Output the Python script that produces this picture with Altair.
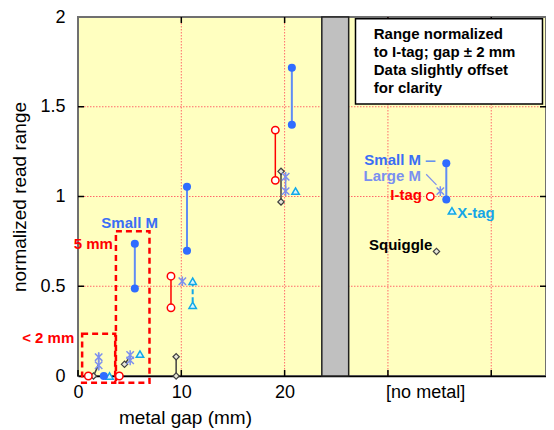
import altair as alt
import pandas as pd

# ---------------- data ----------------
itag_x = [1.0, 4.0, 9.0, 9.0, 19.1, 19.1, 34.1]
itag_y = [0.0, 0.0, 0.556, 0.38, 1.37, 1.09, 1.0]
smallm_x = [2.5, 5.5, 5.5, 10.55, 10.55, 20.7, 20.7, 35.65, 35.65]
smallm_y = [0.0, 0.737, 0.487, 1.054, 0.698, 1.717, 1.40, 1.185, 0.983]
largem_x = [2.0, 2.0, 5.05, 5.05, 10.1, 20.1, 20.1, 35.07]
largem_y = [0.105, 0.06, 0.117, 0.087, 0.528, 1.11, 1.03, 1.03]
xtag_x = [3.05, 6.0, 11.1, 11.1, 21.06, 36.2]
xtag_y = [0.0, 0.122, 0.528, 0.394, 1.03, 0.92]
squig_x = [1.5, 4.5, 9.5, 9.5, 19.65, 19.65, 34.7]
squig_y = [0.0, 0.065, 0.107, 0.0, 1.14, 0.97, 0.694]

# range segments: series, x, x2, y, y2
seg_series = ["itag", "itag", "smallm", "smallm", "smallm", "smallm",
              "largem", "largem", "largem", "xtag", "squig", "squig", "squig", "squig"]
seg_x = [9.0, 19.1, 5.5, 10.55, 20.7, 35.65, 2.0, 5.05, 20.1, 11.1, 9.5, 19.65, 1.5, 4.5]
seg_x2 = [9.0, 19.1, 5.5, 10.55, 20.7, 35.65, 2.0, 5.05, 20.1, 11.1, 9.5, 19.65, 2.0, 4.86]
seg_y = [0.556, 1.37, 0.737, 1.054, 1.717, 1.185, 0.13, 0.117, 1.11, 0.528, 0.107, 1.14, 0.0, 0.065]
seg_y2 = [0.38, 1.09, 0.487, 0.698, 1.40, 0.983, 0.03, 0.087, 1.03, 0.394, 0.0, 0.97, 0.065, 0.093]

x_ticks = [0, 10, 20]
x_nometal = 33.6
x_grid = [10, 20, 30, 40]
y_ticks = [0, 0.5, 1, 1.5, 2]
y_grid = [0.5, 1, 1.5]
x_max = 45.3
gap_band = [23.6, 26.2]

legend_lines = ["Range normalized", "to I-tag; gap \u00b1 2 mm", "Data slightly offset", "for clarity"]

ann_text = ["Small M", "Large M", "I-tag", "Squiggle", "5 mm", "< 2 mm", "X-tag", "Small M"]
ann_x = [33.2, 33.2, 33.3, 34.3, 3.38, -0.36, 36.7, 5.0]
ann_y = [1.202, 1.112, 1.01, 0.728, 0.733, 0.213, 0.91, 0.852]
ann_align = ["right", "right", "right", "right", "right", "right", "left", "center"]
ann_color = ["#3a6ef5", "#7a8ff0", "#ff0000", "#000000", "#ff0000", "#ff0000", "#16a6e6", "#3a6ef5"]

# ---------------- styles ----------------
W, H = 468, 359
FONT = "Liberation Sans"
BLUE = "#2f6cff"
BLUE_L = "#5f8cf5"
LBLUE = "#7d90ee"
RED = "#ff0000"
CYAN = "#10a8e8"
GREY = "#404040"
GRIDC = "#ff6a6a"

xs = alt.Scale(domain=[0, x_max], nice=False, zero=False)
ys = alt.Scale(domain=[0, 2], nice=False, zero=False)

xax = alt.Axis(values=x_ticks + [x_nometal],
               labelExpr="datum.value > 30 ? '[no metal]' : format(datum.value, 'd')",
               grid=False, ticks=False, domain=True, domainColor="black", domainWidth=1.5,
               labelFont=FONT, labelFontSize=18, labelColor="black", labelPadding=7,
               labelOverlap=False, labelFlush=False, title=None)
yax = alt.Axis(values=y_ticks, labelExpr="'' + datum.value",
               grid=False, ticks=False, domain=False,
               labelFont=FONT, labelFontSize=18, labelColor="black", labelPadding=13,
               title="normalized read range", titleFont=FONT, titleFontSize=19,
               titleFontWeight="normal", titleColor="black", titlePadding=10)


def X(f="x"):
    return alt.X(f"{f}:Q", scale=xs, axis=xax)


def Y(f="y"):
    return alt.Y(f"{f}:Q", scale=ys, axis=yax)


# grid lines
vgrid = alt.Chart(pd.DataFrame({"x": x_grid})).mark_rule(
    color=GRIDC, strokeDash=[1.5, 1.5], strokeWidth=1).encode(
    x=X(), y=alt.value(0), y2=alt.value(H))
hgrid = alt.Chart(pd.DataFrame({"y": y_grid})).mark_rule(
    color=GRIDC, strokeDash=[1.5, 1.5], strokeWidth=1).encode(
    y=Y(), x=alt.value(0), x2=alt.value(W))

# inward ticks
tick_top = alt.Chart(pd.DataFrame({"x": x_grid})).mark_rule(color="black", strokeWidth=1.5).encode(
    x=X(), y=alt.value(0), y2=alt.value(6))
tick_bot = alt.Chart(pd.DataFrame({"x": [0] + x_grid})).mark_rule(color="black", strokeWidth=1.5).encode(
    x=X(), y=alt.value(H), y2=alt.value(H - 6))
tick_right = alt.Chart(pd.DataFrame({"y": y_grid})).mark_rule(color="black", strokeWidth=1.5).encode(
    y=Y(), x=alt.value(W), x2=alt.value(W - 6))
tick_left = alt.Chart(pd.DataFrame({"y": y_grid})).mark_rule(color="black", strokeWidth=1.5).encode(
    y=Y(), x=alt.value(0), x2=alt.value(6))

# grey band
band = alt.Chart(pd.DataFrame({"x": [gap_band[0]], "x2": [gap_band[1]], "y": [0], "y2": [2]})).mark_rect(
    fill="#c0c0c0", stroke="#202020", strokeWidth=1.5).encode(
    x=X(), x2="x2:Q", y=Y(), y2="y2:Q")

# dashed boxes
boxes = alt.Chart(pd.DataFrame({"x": [0.4, 3.67], "x2": [3.6, 6.92],
                                "y": [-0.037, -0.037], "y2": [0.235, 0.806]})).mark_rect(
    fill=None, stroke=RED, strokeWidth=2.5, strokeDash=[6, 4]).encode(
    x=X(), x2="x2:Q", y=Y(), y2="y2:Q")

# range segments
segdf = pd.DataFrame({"s": seg_series, "x": seg_x, "x2": seg_x2, "y": seg_y, "y2": seg_y2})
seg_style = {"itag": (RED, None, 1.5), "smallm": (BLUE_L, None, 2), "largem": (LBLUE, None, 1.5),
             "xtag": (CYAN, [5, 3], 2), "squig": (GREY, None, 1.5)}
seg_layers = []
for s, (c, d, w) in seg_style.items():
    kw = dict(color=c, strokeWidth=w)
    if d:
        kw["strokeDash"] = d
    seg_layers.append(alt.Chart(segdf[segdf.s == s]).mark_rule(**kw).encode(
        x=X(), x2="x2:Q", y=Y(), y2="y2:Q"))

# points
squig = alt.Chart(pd.DataFrame({"x": squig_x, "y": squig_y})).mark_point(
    shape="diamond", size=40, filled=True, fill="#e8e8d8", stroke=GREY, strokeWidth=1.2, opacity=1).encode(
    x=X(), y=Y())
itag = alt.Chart(pd.DataFrame({"x": itag_x, "y": itag_y})).mark_point(
    shape="circle", size=55, filled=True, fill="white", stroke=RED, strokeWidth=1.5, opacity=1).encode(
    x=X(), y=Y())
largem = alt.Chart(pd.DataFrame({"x": largem_x, "y": largem_y})).mark_point(
    shape="M-1,-1L1,1M-1,1L1,-1M0,-1.3L0,1.3", size=55, filled=False, stroke=LBLUE,
    strokeWidth=1.5, opacity=1).encode(x=X(), y=Y())
xtag = alt.Chart(pd.DataFrame({"x": xtag_x, "y": xtag_y})).mark_point(
    shape="triangle-up", size=55, filled=True, fill="#d8f4ff", stroke=CYAN, strokeWidth=1.5, opacity=1).encode(
    x=X(), y=Y())
smallm = alt.Chart(pd.DataFrame({"x": smallm_x, "y": smallm_y})).mark_point(
    shape="circle", size=65, filled=True, color=BLUE, opacity=1).encode(
    x=X(), y=Y())

# annotation leader lines
leaders = alt.Chart(pd.DataFrame({"x": [33.66, 33.7], "x2": [34.6, 34.7],
                                  "y": [1.197, 1.124], "y2": [1.197, 1.065],
                                  "c": [BLUE, LBLUE]})).mark_rule(strokeWidth=1.2).encode(
    x=X(), x2="x2:Q", y=Y(), y2="y2:Q", color=alt.Color("c:N", scale=None))

anndf = pd.DataFrame({"t": ann_text, "x": ann_x, "y": ann_y, "a": ann_align, "c": ann_color})
ann_layers = []
for a in ["right", "left", "center"]:
    ann_layers.append(alt.Chart(anndf[anndf.a == a]).mark_text(
        align=a, baseline="middle", font=FONT, fontSize=15, fontWeight="bold").encode(
        x=X(), y=Y(), text="t:N", color=alt.Color("c:N", scale=None)))

# legend box
lbox = alt.Chart(pd.DataFrame({"x": [26.86], "x2": [44.96], "y": [1.515], "y2": [1.99]})).mark_rect(
    fill="white", stroke="black", strokeWidth=1.5).encode(
    x=X(), x2="x2:Q", y=Y(), y2="y2:Q")
ltext = alt.Chart(pd.DataFrame({"t": legend_lines, "x": [28.63] * 4,
                                "y": [1.906, 1.806, 1.706, 1.606]})).mark_text(
    align="left", baseline="middle", font=FONT, fontSize=15, fontWeight="bold", color="black").encode(
    x=X(), y=Y(), text="t:N")

# x title
xtitle = alt.Chart(pd.DataFrame({"t": ["metal gap (mm)"], "x": [10.4]})).mark_text(
    align="center", baseline="middle", font=FONT, fontSize=19, color="black").encode(
    x=X(), y=alt.value(401), text="t:N")

chart = alt.layer(
    vgrid, hgrid, band, tick_top, tick_bot, tick_right, tick_left, boxes,
    *seg_layers, squig, itag, largem, xtag, smallm, leaders, *ann_layers, lbox, ltext, xtitle
).properties(
    width=W, height=H,
    autosize=alt.AutoSizeParams(type="none"),
    padding={"left": 70, "top": 9, "right": 0, "bottom": 54},
).configure_view(fill="#ffffc0", stroke="#707070", strokeWidth=2)

chart.save("out.html", embed_options={"renderer": "svg", "actions": False})
